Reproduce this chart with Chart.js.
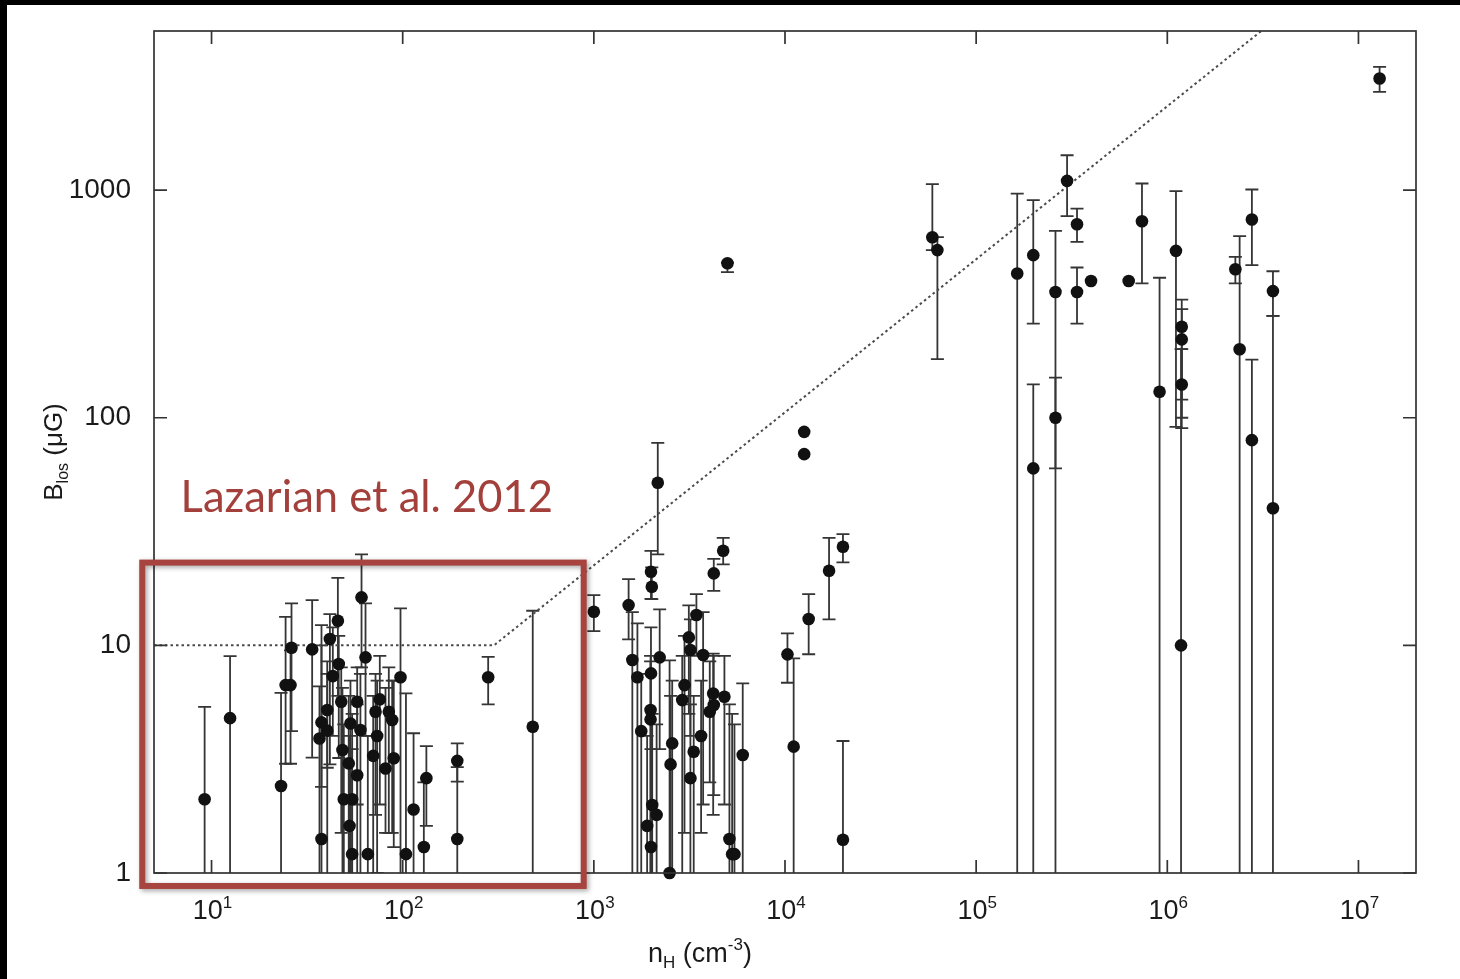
<!DOCTYPE html>
<html><head><meta charset="utf-8">
<script src="https://cdn.jsdelivr.net/npm/chart.js@4.4.0/dist/chart.umd.min.js"></script>
<style>html,body{margin:0;padding:0;background:#fff;overflow:hidden}#wrap{width:1460px;height:979px;position:relative}</style>
</head><body><div id="wrap"><canvas id="c" width="1460" height="979"></canvas></div>
<script>
// ---- data (n_H in cm^-3, B_los in microGauss); errLow 0.5 = bar runs below the axis ----
const densities = [9.2,12.5,23.1,24.4,25.9,26.2,33.6,37.6,36.7,37.6,40.3,40.3,41.6,45.8,46.3,43.1,47.7,48.4,53.3,60.9,
  63.9,57.8,60.1,52.2,57.8,49.2,54.4,52.7,54.4,65.7,75.9,72.1,84.6,88.1,73.5,70.1,81.3,89.8,97.4,104,
  114,133,129,193,193,280,479,1000,2160,1990,2010,1520,1590,1690,2210,1990,1980,1980,1770,2020,
  2130,1900,1990,2490,2570,2520,2980,2900,3200,3330,3640,3140,3200,3440,3730,4240,4750,4210,4240,4040,
  4820,5120,5290,5440,6010,10300,11100,12600,12600,13300,17000,20100,20100,5000,59000,62700,164000,199000,199000,260000,
  260000,299000,337000,337000,399000,628000,737000,911000,1110000,1180000,1190000,1190000,1190000,2270000,2390000,2770000,2770000,3570000,3570000,12900000];
const fieldStrengths = [2.11,4.79,2.41,6.69,6.69,9.76,9.60,1.41,3.90,4.59,4.22,5.20,10.66,12.83,8.28,7.33,5.65,3.47,4.54,16.25,
  8.86,5.65,4.25,3.03,2.69,2.11,2.11,1.61,1.21,1.21,5.79,5.11,5.11,4.70,4.00,3.27,2.88,3.19,7.24,1.21,
  1.90,2.61,1.30,3.11,1.41,7.24,4.39,14.05,51.8,21.05,18.09,15.03,8.62,7.24,8.86,7.53,5.20,4.73,4.20,1.99,
  1.80,1.61,1.30,1.0,3.71,3.00,6.69,5.75,2.61,3.41,4.00,10.84,9.54,13.59,9.07,20.71,26.03,6.15,5.47,5.11,
  5.95,1.41,1.21,1.21,3.30,9.13,3.59,86.7,69.2,13.05,21.27,27.1,1.40,477,621,545,430,518,59.9,357,
  100,1098,708,357,399,399,730,130,541,10,251,221,140,449,200,743,79.7,360,40.0,3091];
const errLow = [0.5,0.5,0.5,3.02,3.02,4.20,3.21,0.5,0.5,2.39,0.5,2.9,3.0,6.0,3.2,4.0,1.5,0.5,0.5,8.0,
  4.0,2.0,0.5,0.5,0.5,0.5,0.5,0.5,0.5,0.5,2.0,1.8,1.5,1.5,1.0,0.5,1.5,1.3,0.5,0.5,
  0.5,1.61,0.5,2.52,0.5,5.51,0.5,11.56,25.1,16.0,15.97,10.62,0.5,0.5,3.5,0.5,0.5,0.5,0.5,0.5,
  0.5,0.5,0.5,0.5,0.5,0.5,1.5,0.5,0.5,0.5,1.5,5.0,4.0,9.0,2.0,17.37,22.68,1.8,2.2,2.5,
  2.0,0.5,0.5,0.5,0.5,6.85,0.5,null,null,9.14,13.01,23.14,0.5,436,545,181,0.5,259,0.5,0.5,
  59.9,768,592,259,null,null,389,0.5,91.2,0.5,120,100,90,389,0.5,468,0.5,280,0.5,2700];
const errHigh = [5.37,8.97,6.19,13.35,9.5,15.29,15.81,12.28,6.6,10.0,7.5,8.5,13.72,19.81,11.0,12.0,8.0,6.5,7.0,25.09,
  15.29,8.0,7.5,6.0,5.5,4.5,5.0,4.0,3.5,4.0,9.0,7.5,8.0,7.0,7.0,6.0,6.5,7.0,14.54,6.15,
  4.11,3.61,2.5,3.71,2.92,8.91,14.19,16.63,77.6,26.03,22.0,19.55,14.0,12.5,14.39,12.0,9.0,8.5,7.5,5.0,
  4.5,4.0,3.5,8.6,7.0,6.0,11.0,9.0,5.5,6.0,7.0,15.0,13.0,16.8,14.0,24.01,29.69,9.2,9.0,8.5,
  9.0,5.5,5.0,4.5,6.81,11.29,8.77,null,null,16.80,29.69,30.8,3.80,480,1062,621,966,903,140,662,
  150,1423,830,457,null,null,1069,412,989,200,330,300,200,509,628,1006,180,440,280,3476];
// model curve (upper envelope)
const modelDensity = [5, 300, 3.1e6];
const modelField = [10, 10, 5000];
// axes
const xTickValues = [10,100,1000,1e4,1e5,1e6,1e7];
const xTickBase = '10';
const xTickExponents = ['1','2','3','4','5','6','7'];
const yTickValues = [1,10,100,1000];
const yTickLabels = ['1','10','100','1000'];
const xRange = [5, 2e7];
const yRange = [1, 5000];
// annotation
const noteText = 'Lazarian et al. 2012';
const noteBoxX = [4.34, 885];
const noteBoxY = [0.877, 23.1];
const noteTextAt = [6.89, 38.5];

const FONT = '"Liberation Sans", Arial, Helvetica, sans-serif';

function drawRich(ctx, parts, x, y, align) {
  let w = 0;
  parts.forEach(p => { ctx.font = p[1] + 'px ' + FONT; w += ctx.measureText(p[0]).width; });
  let cx = align === 'center' ? x - w / 2 : x;
  ctx.textAlign = 'left';
  parts.forEach(p => { ctx.font = p[1] + 'px ' + FONT; ctx.fillText(p[0], cx, y + p[2]); cx += ctx.measureText(p[0]).width; });
}

const deco = {
  id: 'deco',
  beforeDraw(chart) {
    const ctx = chart.ctx;
    ctx.save();
    ctx.fillStyle = '#fff'; ctx.fillRect(0, 0, chart.width, chart.height);
    ctx.fillStyle = '#000'; ctx.fillRect(0, 0, chart.width, 5); ctx.fillRect(0, 0, 7, chart.height);
    ctx.restore();
  },
  beforeDatasetsDraw(chart) {
    const {ctx, chartArea: a, scales: {x, y}} = chart;
    ctx.save();
    ctx.beginPath(); ctx.rect(a.left, a.top, a.right - a.left, a.bottom - a.top); ctx.clip();
    ctx.strokeStyle = '#353535'; ctx.lineWidth = 1.8;
    const cap = 6.5;
    for (let i = 0; i < densities.length; i++) {
      if (errLow[i] == null || errHigh[i] == null) continue;
      const px = x.getPixelForValue(densities[i]);
      const yl = y.getPixelForValue(errLow[i]);
      const yh = y.getPixelForValue(errHigh[i]);
      ctx.beginPath();
      ctx.moveTo(px, yl); ctx.lineTo(px, yh);
      ctx.moveTo(px - cap, yh); ctx.lineTo(px + cap, yh);
      if (errLow[i] >= 1) { ctx.moveTo(px - cap, yl); ctx.lineTo(px + cap, yl); }
      ctx.stroke();
    }
    ctx.restore();
  },
  afterDraw(chart) {
    const {ctx, chartArea: a, scales: {x, y}} = chart;
    ctx.save();
    ctx.strokeStyle = '#333'; ctx.lineWidth = 1.7;
    ctx.strokeRect(a.left, a.top, a.right - a.left, a.bottom - a.top);
    const tl = 13;
    ctx.beginPath();
    xTickValues.forEach(v => { const px = x.getPixelForValue(v);
      ctx.moveTo(px, a.bottom); ctx.lineTo(px, a.bottom - tl);
      ctx.moveTo(px, a.top); ctx.lineTo(px, a.top + tl); });
    yTickValues.forEach(v => { const py = y.getPixelForValue(v);
      ctx.moveTo(a.left, py); ctx.lineTo(a.left + tl, py);
      ctx.moveTo(a.right, py); ctx.lineTo(a.right - tl, py); });
    ctx.stroke();
    ctx.fillStyle = '#1a1a1a'; ctx.textBaseline = 'alphabetic';
    xTickValues.forEach((v, i) => {
      drawRich(ctx, [[xTickBase, 27, 0], [xTickExponents[i], 17, -11]], x.getPixelForValue(v) + 1, a.bottom + 46, 'center');
    });
    drawRich(ctx, [['n', 27, 0], ['H', 17, 6], [' (cm', 27, 0], ['-3', 17, -12], [')', 27, 0]], 700, 962, 'center');
    ctx.save();
    ctx.translate(62, 452); ctx.rotate(-Math.PI / 2);
    drawRich(ctx, [['B', 26, 0], ['los', 16, 6], [' (\u03bcG)', 26, 0]], 0, 0, 'center');
    ctx.restore();
    const bx0 = x.getPixelForValue(noteBoxX[0]), bx1 = x.getPixelForValue(noteBoxX[1]);
    const by0 = y.getPixelForValue(noteBoxY[0]), by1 = y.getPixelForValue(noteBoxY[1]);
    ctx.save();
    ctx.shadowColor = 'rgba(0,0,0,0.35)'; ctx.shadowBlur = 5; ctx.shadowOffsetX = 2; ctx.shadowOffsetY = 2;
    ctx.strokeStyle = '#a8443f'; ctx.lineWidth = 6;
    ctx.strokeRect(bx0, by1, bx1 - bx0, by0 - by1);
    ctx.restore();
    ctx.fillStyle = '#a3403b';
    ctx.font = '40px Lato, "Open Sans", sans-serif';
    const w = ctx.measureText(noteText).width;
    const fs = 40 * 372 / w;
    ctx.font = fs.toFixed(1) + 'px Lato, "Open Sans", sans-serif';
    ctx.textAlign = 'left';
    ctx.fillText(noteText, x.getPixelForValue(noteTextAt[0]), y.getPixelForValue(noteTextAt[1]));
    ctx.restore();
  }
};

const points = densities.map((n, i) => ({x: n, y: fieldStrengths[i]}));
const model = modelDensity.map((n, i) => ({x: n, y: modelField[i]}));

new Chart(document.getElementById('c'), {
  data: {
    datasets: [
      {type: 'line', data: model, borderColor: '#4a4a4a', borderWidth: 2, borderDash: [2.5, 3], pointRadius: 0, fill: false, order: 2},
      {type: 'scatter', data: points, backgroundColor: '#111', borderColor: '#111', borderWidth: 0, pointRadius: 6.3, pointHoverRadius: 6.3, clip: false, order: 1}
    ]
  },
  options: {
    responsive: false, animation: false, devicePixelRatio: 1,
    layout: {padding: {left: 0, top: 31, right: 44, bottom: 0}},
    plugins: {legend: {display: false}, tooltip: {enabled: false}},
    scales: {
      x: {type: 'logarithmic', min: xRange[0], max: xRange[1], grid: {display: false, drawTicks: false}, border: {display: false},
          ticks: {display: false}, afterBuildTicks: s => { s.ticks = xTickValues.map(v => ({value: v})); },
          afterFit: s => { s.height = 106; s.paddingLeft = 0; s.paddingRight = 0; }},
      y: {type: 'logarithmic', min: yRange[0], max: yRange[1], grid: {display: false, drawTicks: false}, border: {display: false},
          ticks: {color: '#1a1a1a', padding: 23, font: {family: FONT, size: 28}, callback: (v, i) => yTickLabels[i]},
          afterBuildTicks: s => { s.ticks = yTickValues.map(v => ({value: v})); },
          afterFit: s => { s.width = 154; s.paddingTop = 0; s.paddingBottom = 0; }}
    }
  },
  plugins: [deco]
});
</script></body></html>
